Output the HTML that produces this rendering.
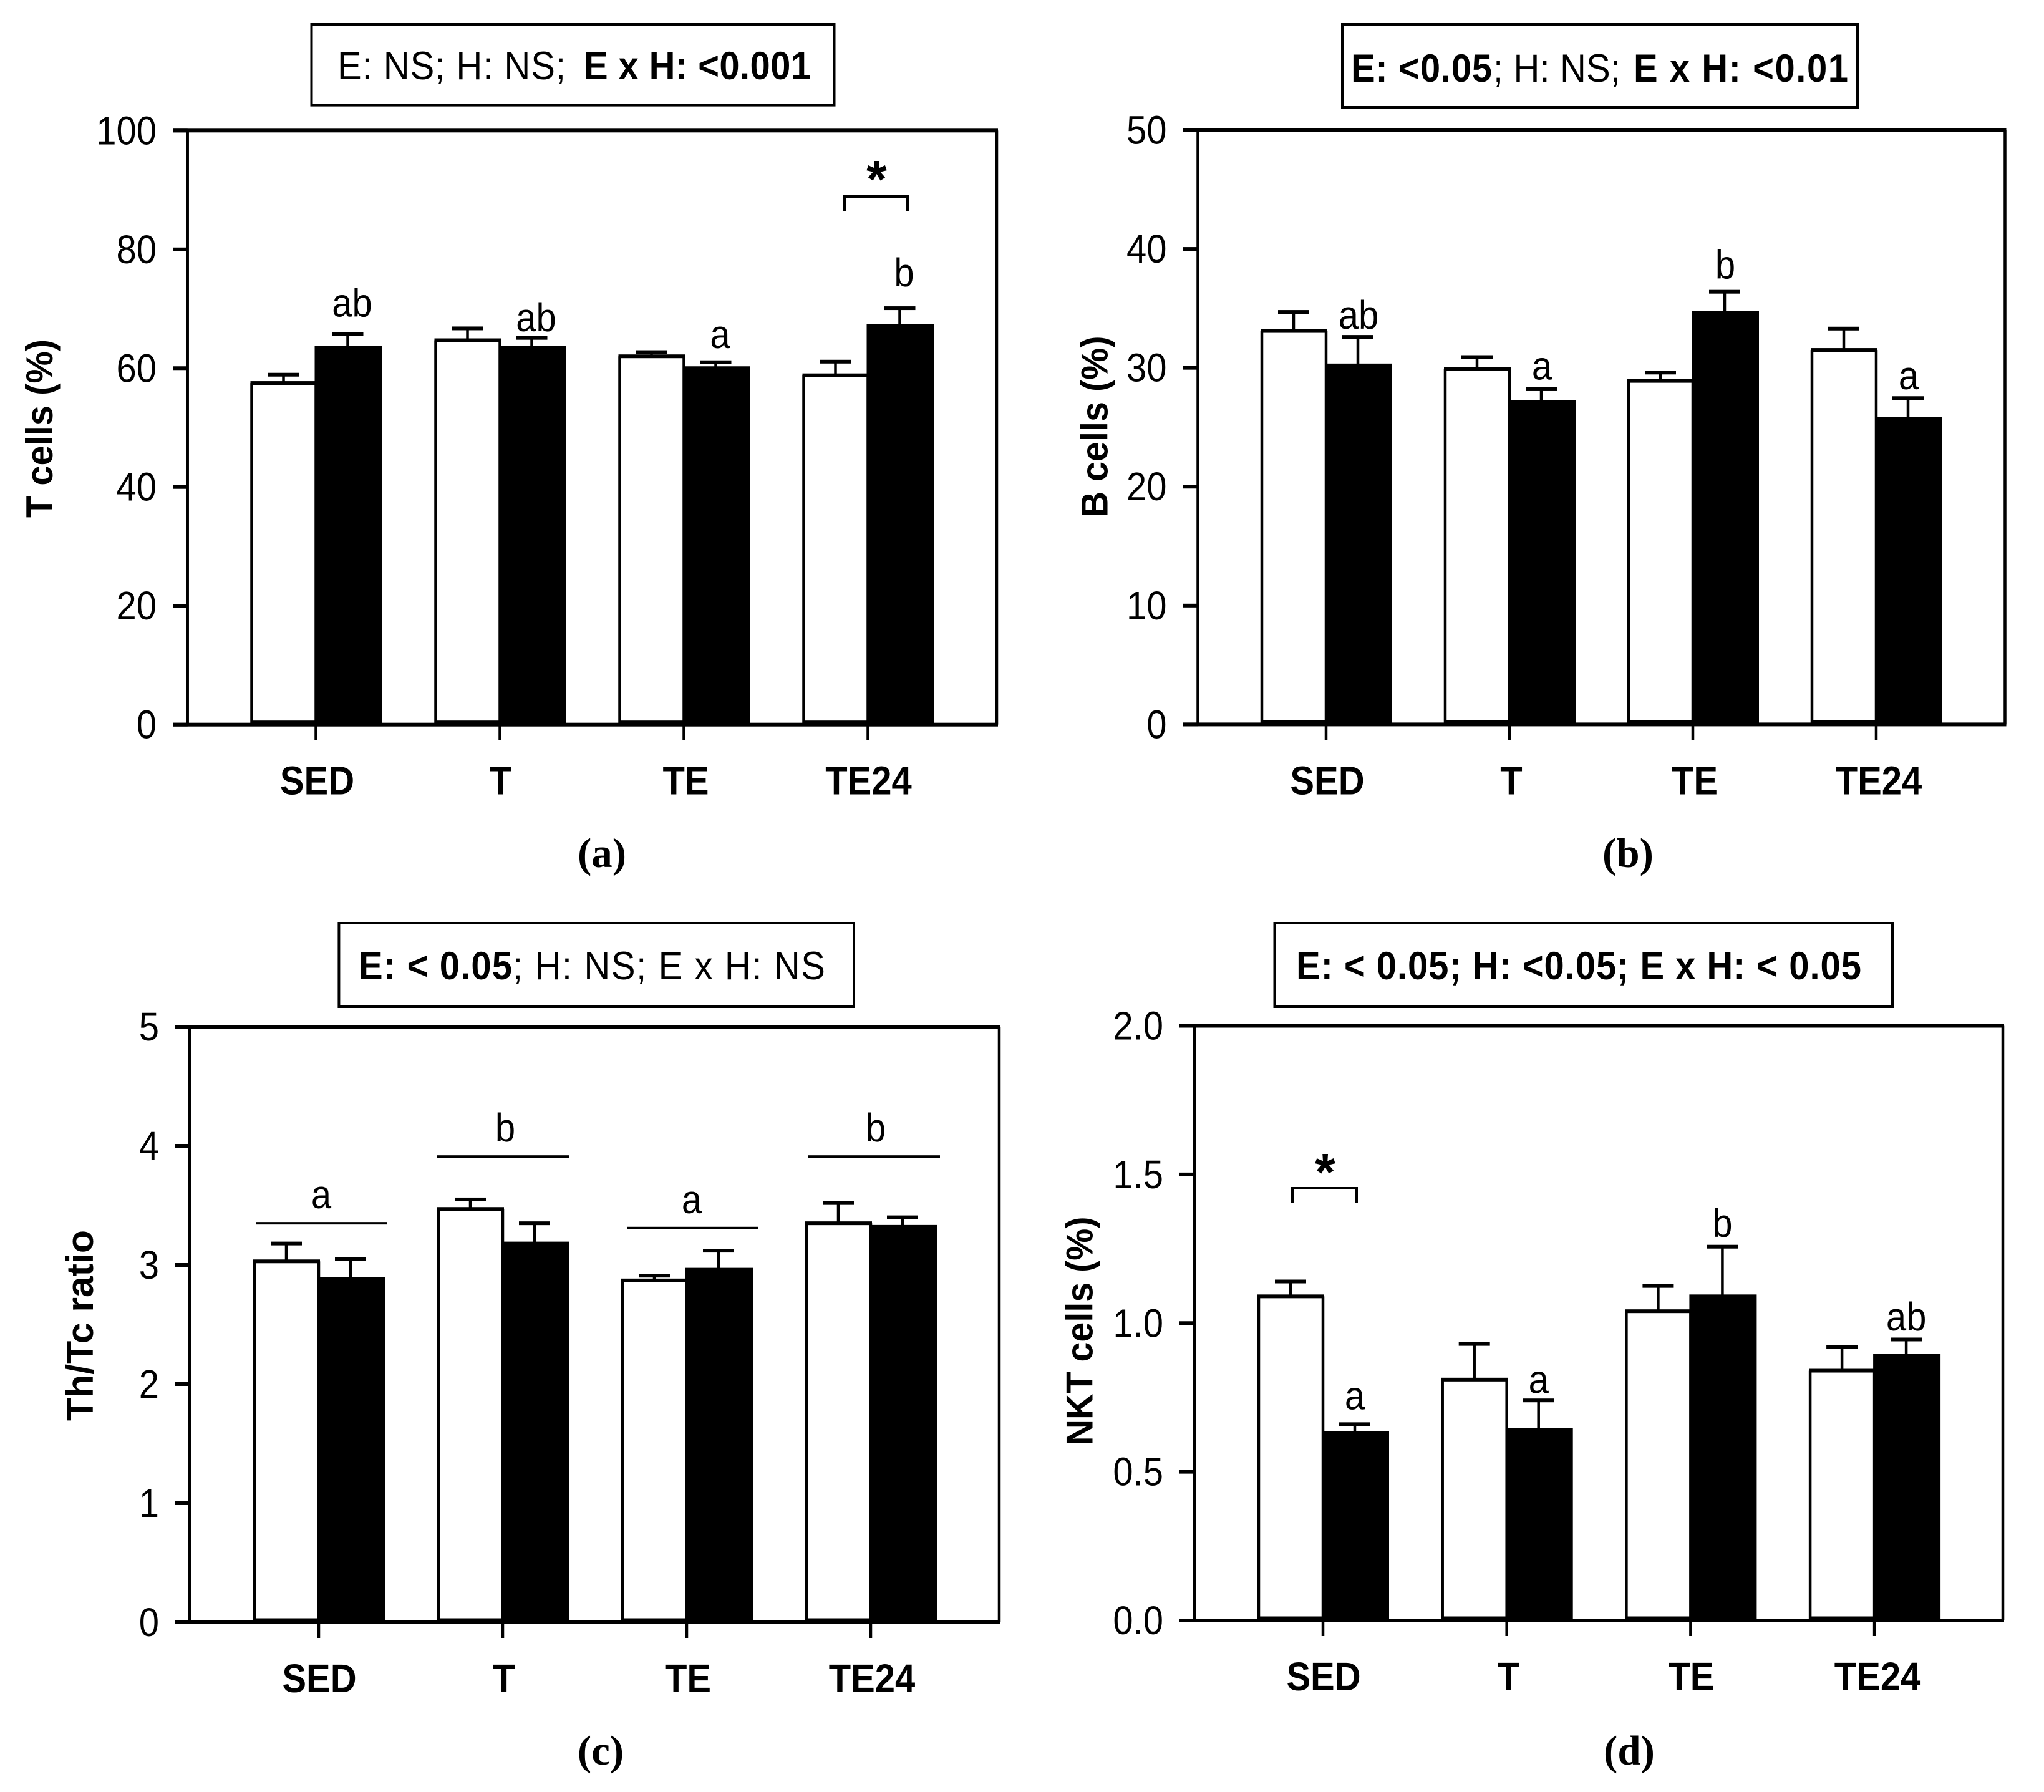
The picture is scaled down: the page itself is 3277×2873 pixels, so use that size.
<!DOCTYPE html>
<html lang="en">
<head>
<meta charset="utf-8">
<title>Lymphocyte populations by training group</title>
<style>
html,body{margin:0;padding:0;background:#fff;}
svg{display:block;}
text{fill:#000;font-family:"Liberation Sans",Arial,sans-serif;white-space:pre;}
</style>
</head>
<body>
<svg id="figure" xmlns="http://www.w3.org/2000/svg" width="3277" height="2873" viewBox="0 0 3277 2873"></svg>
<script>
// ---- data ----
const categories = ['SED', 'T', 'TE', 'TE24'];

const aTicks = ['0', '20', '40', '60', '80', '100'];
const aWhite = [57.5, 64.7, 62.0, 58.8];
const aWhiteErr = [1.4, 2.0, 0.7, 2.3];
const aBlack = [63.4, 63.4, 60.0, 67.1];
const aBlackErr = [2.3, 1.7, 1.0, 3.0];
const aLetters = ['ab', 'ab', 'a', 'b'];
const aLetterLevels = [68.7, 66.2, 63.4, 73.8];

const bTicks = ['0', '10', '20', '30', '40', '50'];
const bWhite = [33.1, 29.9, 28.9, 31.5];
const bWhiteErr = [1.6, 1.0, 0.7, 1.8];
const bBlack = [30.2, 27.1, 34.6, 25.7];
const bBlackErr = [2.4, 1.1, 1.8, 1.75];
const bLetters = ['ab', 'a', 'b', 'a'];
const bLetterLevels = [33.3, 29.0, 37.5, 28.2];

const cTicks = ['0', '1', '2', '3', '4', '5'];
const cWhite = [3.03, 3.47, 2.87, 3.35];
const cWhiteErr = [0.15, 0.08, 0.04, 0.17];
const cBlack = [2.88, 3.18, 2.96, 3.32];
const cBlackErr = [0.17, 0.17, 0.16, 0.08];
const cGroupLetters = ['a', 'b', 'a', 'b'];
const cGroupLevels = [3.35, 3.91, 3.31, 3.91];

const dTicks = ['0.0', '0.5', '1.0', '1.5', '2.0'];
const dWhite = [1.09, 0.81, 1.04, 0.84];
const dWhiteErr = [0.05, 0.12, 0.085, 0.08];
const dBlack = [0.63, 0.64, 1.09, 0.89];
const dBlackErr = [0.03, 0.10, 0.167, 0.055];
const dLetters = ['a', 'a', 'b', 'ab'];
const dLetterLevels = [0.71, 0.765, 1.29, 0.975];

// ---- drawing ----
const svg = document.getElementById('figure');
const NS = 'http://www.w3.org/2000/svg';
const H_STROKE = 6, V_STROKE = 4.5, SY = 1.1;

function makeAxes(L) {
  const yMax = L.yMax;
  return {
    y: function (v) { return L.base - (v / yMax) * (L.base - L.top); },
    x: function (i) { return L.groupX0 + i * L.groupStep; }
  };
}
function rect(parent, x, y, w, h, fill) {
  const r = document.createElementNS(NS, 'rect');
  r.setAttribute('x', x); r.setAttribute('y', y);
  r.setAttribute('width', w); r.setAttribute('height', h);
  r.setAttribute('fill', fill || '#000');
  parent.appendChild(r);
  return r;
}
function hline(parent, x1, x2, y, t) { return rect(parent, x1, y - (t || H_STROKE) / 2, x2 - x1, t || H_STROKE); }
function vline(parent, x, y1, y2, t) { return rect(parent, x - (t || V_STROKE) / 2, y1, t || V_STROKE, y2 - y1); }
function group(parent) {
  const g = document.createElementNS(NS, 'g');
  parent.appendChild(g);
  return g;
}
function label(parent, x, y, str, size, opts) {
  opts = opts || {};
  const g = document.createElementNS(NS, 'text');
  const sy = opts.sy || SY;
  g.setAttribute('transform', 'translate(' + x + ' ' + y + ') scale(1 ' + sy + ')');
  g.setAttribute('font-size', size);
  g.setAttribute('text-anchor', opts.anchor || 'middle');
  if (opts.bold) g.setAttribute('font-weight', 'bold');
  if (opts.len) g.setAttribute('textLength', opts.len);
  g.textContent = str;
  parent.appendChild(g);
  return g;
}

function drawErr(parent, cx, yVal, yCap) {
  vline(parent, cx, yCap, yVal);
  hline(parent, cx - 25, cx + 25, yCap);
}

function drawPanel(L, P) {
  const ax = makeAxes(L);
  const root = group(svg);
  
  

  // statistics box
  const box = document.createElementNS(NS, 'rect');
  box.setAttribute('x', L.box[0]); box.setAttribute('y', L.box[1]);
  box.setAttribute('width', L.box[2] - L.box[0]); box.setAttribute('height', L.box[3] - L.box[1]);
  box.setAttribute('fill', '#fff'); box.setAttribute('stroke', '#000'); box.setAttribute('stroke-width', '4');
  
  
  root.appendChild(box);

  P.stat.forEach(function (part) {
    const st = label(root, part[2], L.statY, part[0], 58, { anchor: 'start', bold: part[1], len: part[3], sy: 1.08 });
    
    
  });

  // error bars (behind bars)
  const errs = group(root);
  
  
  categories.forEach(function (c, i) {
    const cx = ax.x(i);
    drawErr(errs, cx - 52, ax.y(P.white[i]), ax.y(P.white[i] + P.whiteErr[i]));
    drawErr(errs, cx + 51, ax.y(P.black[i]), ax.y(P.black[i] + P.blackErr[i]));
  });

  // bars
  categories.forEach(function (c, i) {
    const cx = ax.x(i);
    const yW = ax.y(P.white[i]);
    const w = group(root);
    
    
    rect(w, cx - 103, yW, 103, L.base - yW, '#fff');
    hline(w, cx - 105, cx + 2, yW);
    vline(w, cx - 103, yW, L.base);
    vline(w, cx, yW, L.base);
    hline(w, cx - 103, cx, L.base - 4, 5);

    const yB = ax.y(P.black[i]);
    const b = rect(root, cx - 2, yB - 3, 108, L.base - yB + 3, '#000');
    
    
  });

  // frame
  const frame = group(root);
  
  
  hline(frame, L.tickLeft, L.right + 2, L.top);
  hline(frame, L.tickLeft, L.right + 2, L.base);
  vline(frame, L.left, L.top, L.base);
  vline(frame, L.right, L.top, L.base);

  // y ticks
  P.ticks.forEach(function (t) {
    const y = ax.y(parseFloat(t));
    const tk = hline(root, L.tickLeft, L.left, y);
    
    
    const tl = label(root, L.tickLeft - 26, y + 22, t, 58, { anchor: 'end' });
    
    
  });

  // x ticks and labels
  categories.forEach(function (c, i) {
    const tk = vline(root, ax.x(i), L.base, L.base + 25);
    
    
    const tl = label(root, ax.x(i) + L.labelDx[i], L.base + 112, c, 58, { bold: true });
    
    
  });

  // y axis title
  const yt = document.createElementNS(NS, 'text');
  yt.setAttribute('transform', 'translate(' + L.titleX + ' ' + L.titleY + ') rotate(-90)');
  yt.setAttribute('font-size', 60);
  yt.setAttribute('font-weight', 'bold');
  yt.setAttribute('text-anchor', 'middle');
  yt.setAttribute('textLength', L.titleLen);
  yt.setAttribute('lengthAdjust', 'spacingAndGlyphs');
  
  
  yt.textContent = P.title;
  root.appendChild(yt);

  // significance letters over the black bars
  if (P.letters) {
    P.letters.forEach(function (s, i) {
      const lt = label(root, ax.x(i) + 51 + L.letterDx, ax.y(P.levels[i]), s, 58);
      
      
    });
  }
  // group lines with letters (panel c)
  if (P.groupLetters) {
    P.groupLetters.forEach(function (s, i) {
      const y = ax.y(P.groupLevels[i]);
      const ln = hline(root, ax.x(i) - 101 + L.groupDx[i], ax.x(i) + 110 + L.groupDx[i], y, 4);
      
      
      const lt = label(root, ax.x(i) + 4 + L.groupLetterDx[i], y - 24, s, 58);
      
      
    });
  }
  // bracket with star
  if (L.bracket) {
    const br = group(root);
    
    
    const bx1 = L.bracket[0], bx2 = L.bracket[1], by = L.bracket[2];
    hline(br, bx1 - 2, bx2 + 2, by, 4);
    vline(br, bx1, by, by + 24, 4);
    vline(br, bx2, by, by + 24, 4);
    const star = label(root, (bx1 + bx2) / 2 + 1, by + L.starDy, '*', 84, { bold: true, sy: 1 });
    
    
  }

  // panel letter
  const pl = document.createElementNS(NS, 'text');
  pl.setAttribute('x', L.panelX); pl.setAttribute('y', L.panelY);
  pl.setAttribute('text-anchor', 'middle');
  pl.setAttribute('font-size', 67);
  pl.setAttribute('font-weight', 'bold');
  pl.style.fontFamily = '"Liberation Serif",serif';
  
  
  pl.textContent = P.panel;
  root.appendChild(pl);
}

drawPanel(
  { left: 300.7, right: 1598, top: 209.3, base: 1161.7, tickLeft: 277, yMax: 100, groupX0: 506.5, groupStep: 295,
    box: [499.5, 39, 1337.5, 168.6], statY: 127, labelDx: [2, 1, 3, 1],
    titleX: 84, titleY: 687, titleLen: 286, letterDx: 7, bracket: [1354, 1455, 315], starDy: 1, panelX: 965, panelY: 1390 },
  { white: aWhite, whiteErr: aWhiteErr, black: aBlack, blackErr: aBlackErr, ticks: aTicks,
    letters: aLetters, levels: aLetterLevels, title: 'T cells (%)', panel: '(a)',
    stat: [['E: NS; H: NS;', false, 541, 366], ['E x H: <0.001', true, 936, 364]] }
);
drawPanel(
  { left: 1920.5, right: 3214.5, top: 208.5, base: 1161.4, tickLeft: 1896.5, yMax: 50, groupX0: 2126, groupStep: 294,
    box: [2152, 39, 2978, 172], statY: 131, labelDx: [2, 3, 3, 4],
    titleX: 1775.5, titleY: 684, titleLen: 291, letterDx: 1, panelX: 2610, panelY: 1390 },
  { white: bWhite, whiteErr: bWhiteErr, black: bBlack, blackErr: bBlackErr, ticks: bTicks,
    letters: bLetters, levels: bLetterLevels, title: 'B cells (%)', panel: '(b)',
    stat: [['E: <0.05', true, 2166, 226], ['; H: NS;', false, 2394, 204], ['E x H: <0.01', true, 2619, 344]] }
);
drawPanel(
  { left: 304, right: 1602, top: 1646, base: 2601, tickLeft: 281, yMax: 5, groupX0: 511, groupStep: 295,
    box: [543.4, 1480, 1369, 1614], statY: 1570, labelDx: [1, 2, 2, 2],
    groupDx: [0, -4, 5, 1], groupLetterDx: [0, 0, 4, 4],
    titleX: 149, titleY: 2125, titleLen: 306, letterDx: 0, panelX: 963, panelY: 2829 },
  { white: cWhite, whiteErr: cWhiteErr, black: cBlack, blackErr: cBlackErr, ticks: cTicks,
    groupLetters: cGroupLetters, groupLevels: cGroupLevels, title: 'Th/Tc ratio', panel: '(c)',
    stat: [['E: < 0.05', true, 575, 246], [ '; H: NS; E x H: NS', false, 822, 501]] }
);
drawPanel(
  { left: 1915, right: 3211, top: 1644.5, base: 2598, tickLeft: 1891, yMax: 2, groupX0: 2121, groupStep: 294.7,
    box: [2043.5, 1480, 3034, 1614], statY: 1570, labelDx: [1, 3, 1, 5],
    titleX: 1751.6, titleY: 2134, titleLen: 367, letterDx: 0, bracket: [2072, 2175, 1905], starDy: 3, panelX: 2612, panelY: 2829 },
  { white: dWhite, whiteErr: dWhiteErr, black: dBlack, blackErr: dBlackErr, ticks: dTicks,
    letters: dLetters, levels: dLetterLevels, title: 'NKT cells (%)', panel: '(d)',
    stat: [['E: < 0.05; H: <0.05; E x H: < 0.05', true, 2078, 906]] }
);
</script>
</body>
</html>
